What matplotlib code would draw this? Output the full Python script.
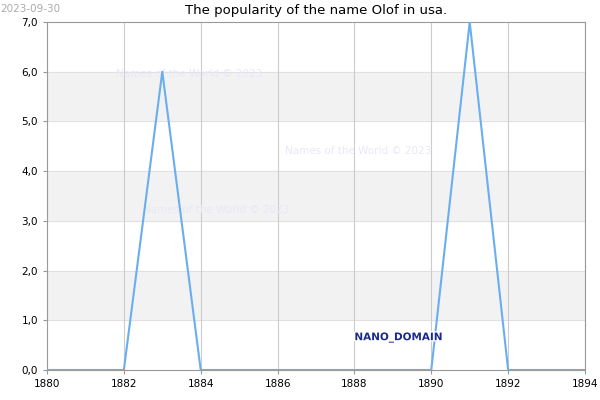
import matplotlib
matplotlib.use("Agg")
import matplotlib.pyplot as plt
import matplotlib.patheffects as pe

years = list(range(1880, 1895))
values = [0, 0, 0, 6, 0, 0, 0, 0, 0, 0, 0, 7, 0, 0, 0]
xticks = list(range(1880, 1895, 2))
yticks = [0, 1, 2, 3, 4, 5, 6, 7]

fig = plt.figure(figsize=(6, 4), dpi=100)
ax = fig.add_axes([47/600, 30/400, 538/600, 348/400])
for lo in [1, 3, 5]:
    ax.axhspan(lo, lo + 1, color="#f2f2f2", zorder=0)
for y in yticks:
    ax.axhline(y, color="#dddddd", lw=0.6, zorder=1)
for x in xticks:
    ax.axvline(x, color="#cccccc", lw=0.8, zorder=1)
ax.plot(years, values, color="#6aaef0", lw=1.5, zorder=3)
ax.set_xlim(1880, 1894)
ax.set_ylim(0, 7)
ax.set_xticks(xticks)
ax.set_yticks(yticks)
ax.set_yticklabels([f"{v:.1f}".replace(".", ",") for v in yticks])
ax.tick_params(labelsize=7.5, color="#999999", length=3)
for s in ax.spines.values():
    s.set_color("#999999")
ax.set_title("The popularity of the name Olof in usa.", fontsize=9.5, pad=6)
fig.text(0.0, 0.99, "2023-09-30", fontsize=7.5, color="#aaaaaa", va="top")
wm = dict(fontsize=7.5, color="#e8e8f8", zorder=2)
ax.text(1881.8, 5.9, "Names of the World © 2023", **wm)
ax.text(1886.2, 4.35, "Names of the World © 2023", **wm)
ax.text(1882.5, 3.15, "Names of the World © 2023", **wm)
ax.text(1888.0, 0.6, "NANO_DOMAIN", fontsize=7.5, color="#1a2a8a", zorder=4,
        fontweight="bold",
        path_effects=[pe.withStroke(linewidth=2, foreground="white")])
fig.savefig("out.png", dpi=100)
